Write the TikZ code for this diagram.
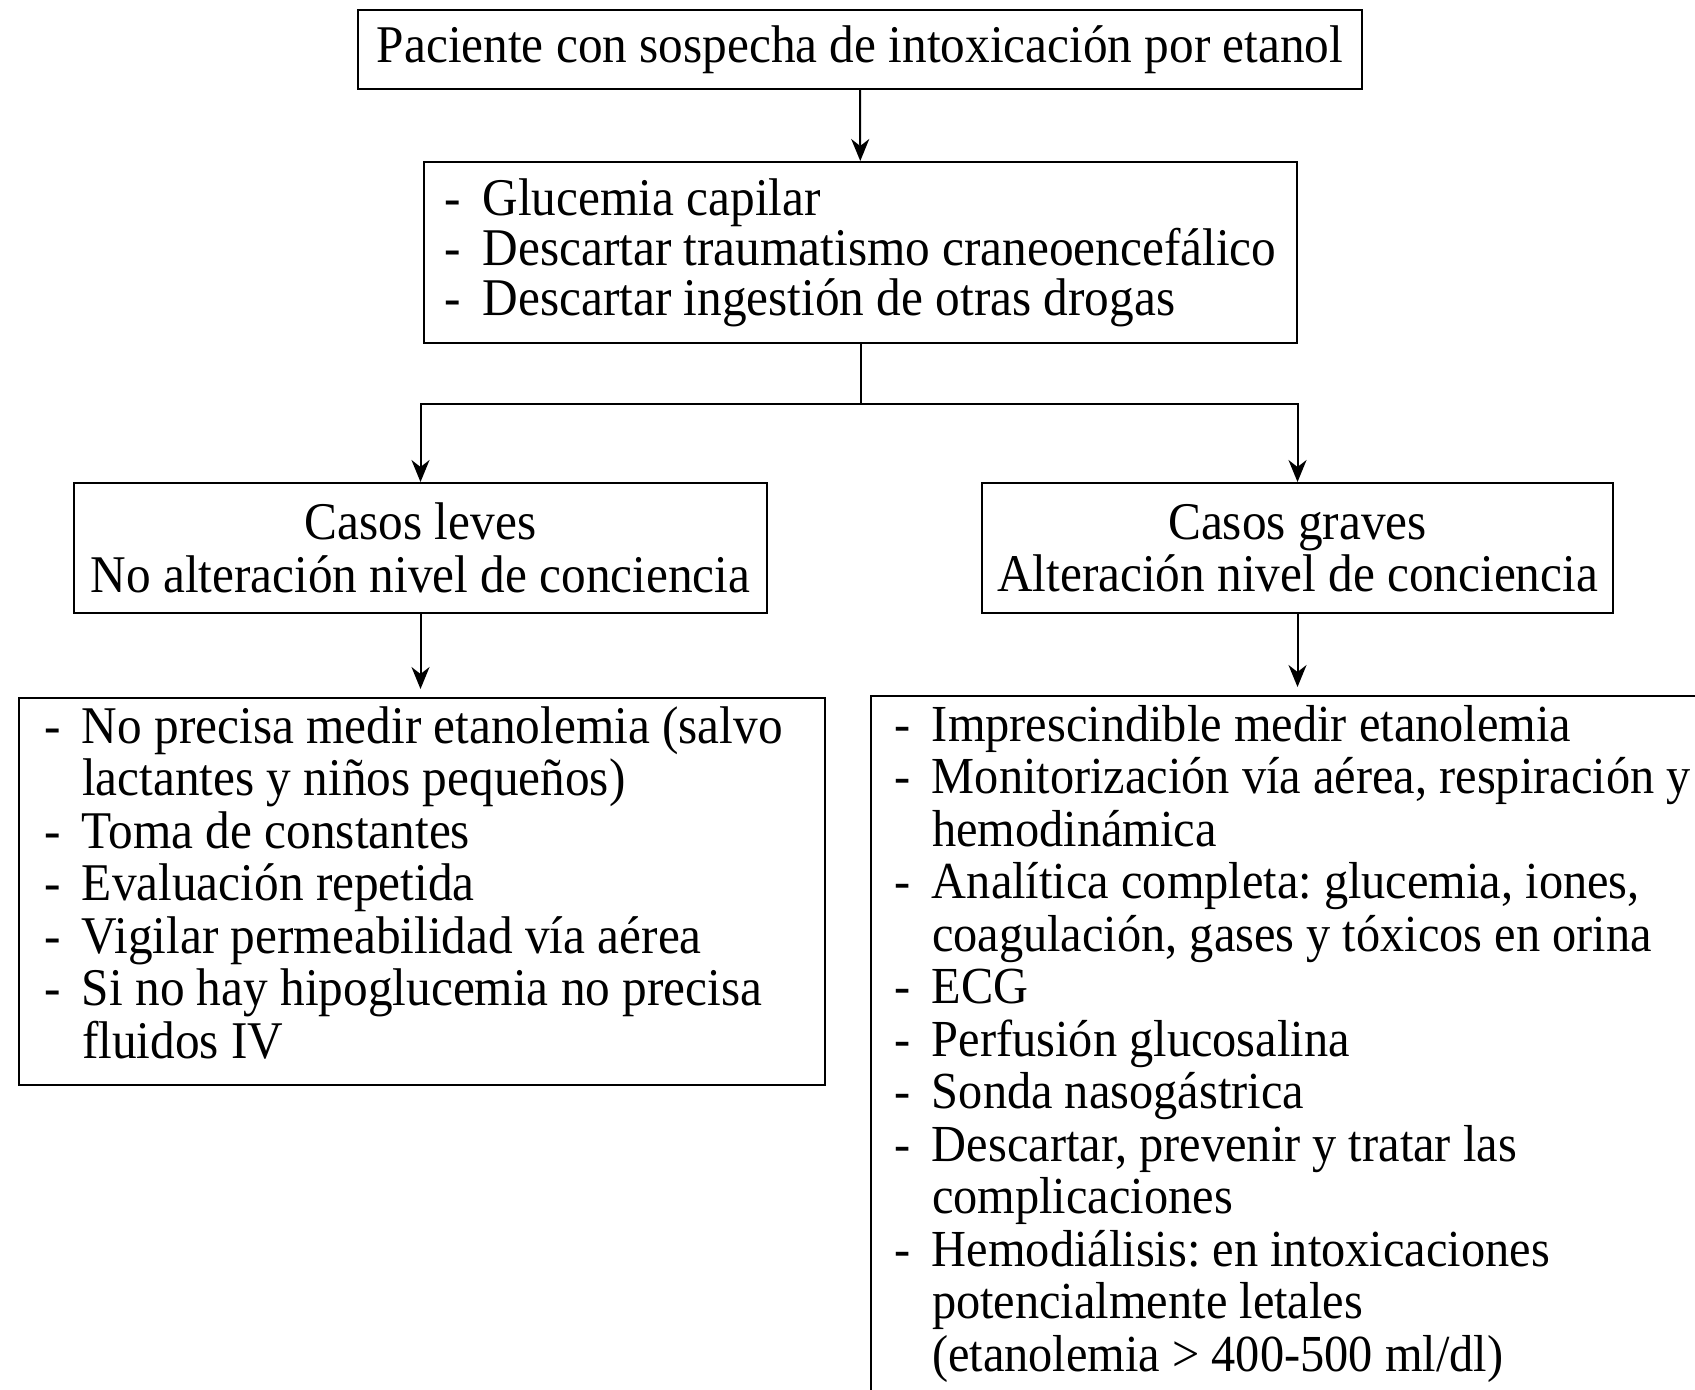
\documentclass[tikz,border=0pt]{standalone}
\usepackage{fontspec}
\setmainfont{Liberation Serif}[FakeStretch=0.93]
\usetikzlibrary{arrows.meta}
\frenchspacing
\newcommand{\guion}{\makebox[19pt][l]{-}}
\newcommand{\sangria}{\hspace*{19pt}}

\begin{document}
\begin{tikzpicture}[
                x=0.5pt, y=-0.5pt,
                every node/.style={
                  draw,
                  line width=1pt,
                  rectangle,
                  inner sep=0pt,
                  font=\fontsize{26.5}{26.25}\selectfont,
                },
                line width=1pt,
                >={Stealth[length=11pt,width=9pt,inset=3.5pt]},
                lista/.style={align=flush left, anchor=north west, inner ysep=5.5pt, text height=17pt},
              ]
              \useasboundingbox (0,0) rectangle (1695,1389);
              \node at (860,49.5) [minimum width=502pt, minimum height=39.5pt] (root)
                {Paciente con sospecha de intoxicación por etanol} ;
              \node at (860.5,252.5) [minimum width=436.5pt, minimum height=90.5pt,
                align=left, font=\fontsize{26.5}{25}\selectfont] (checks)
                {\guion Glucemia capilar\\
                 \guion Descartar traumatismo craneoencefálico\\
                 \guion Descartar ingestión de otras drogas} ;
              \node at (420.5,548) [minimum width=346.5pt, minimum height=65pt, align=center] (mild)
                {Casos leves\\No alteración nivel de conciencia} ;
              \node at (1297.5,548) [minimum width=315.5pt, minimum height=65pt, align=center] (severe)
                {Casos graves\\Alteración nivel de conciencia} ;
              \node at (18,697) [lista, text width=378pt, inner xsep=12.5pt, text depth=165.5pt] (mildcare)
                {\guion No precisa medir etanolemia (salvo\\
                 \sangria lactantes y niños pequeños)\\
                 \guion Toma de constantes\\
                 \guion Evaluación repetida\\
                 \guion Vigilar permeabilidad vía aérea\\
                 \guion Si no hay hipoglucemia no precisa\\
                 \sangria fluidos IV} ;
              \node at (870,695) [lista, text width=480pt, inner xsep=11.5pt, text depth=360pt,
                font=\fontsize{26}{26.25}\selectfont] (severecare)
                {\guion Imprescindible medir etanolemia\\
                 \guion Monitorización vía aérea, respiración y\\
                 \sangria hemodinámica\\
                 \guion Analítica completa: glucemia, iones,\\
                 \sangria coagulación, gases y tóxicos en orina\\
                 \guion ECG\\
                 \guion Perfusión glucosalina\\
                 \guion Sonda nasogástrica\\
                 \guion Descartar, prevenir y tratar las\\
                 \sangria complicaciones\\
                 \guion Hemodiálisis: en intoxicaciones\\
                 \sangria potencialmente letales\\
                 \sangria (etanolemia > 400-500 ml/dl)} ;
              \path (checks.south) ++(0,60) coordinate (split) ;
              \draw[->] (root)--(checks) ;
              \draw (checks.south)--(split) ;
              \draw[->] (split)-|(mild.north) ;
              \draw[->] (split)-|(severe.north) ;
              \draw[->, shorten >=4pt] (mild.south)--(mild.south |- mildcare.north) ;
              \draw[->, shorten >=4pt] (severe.south)--(severe.south |- severecare.north) ;
              \end{tikzpicture}
\end{document}
